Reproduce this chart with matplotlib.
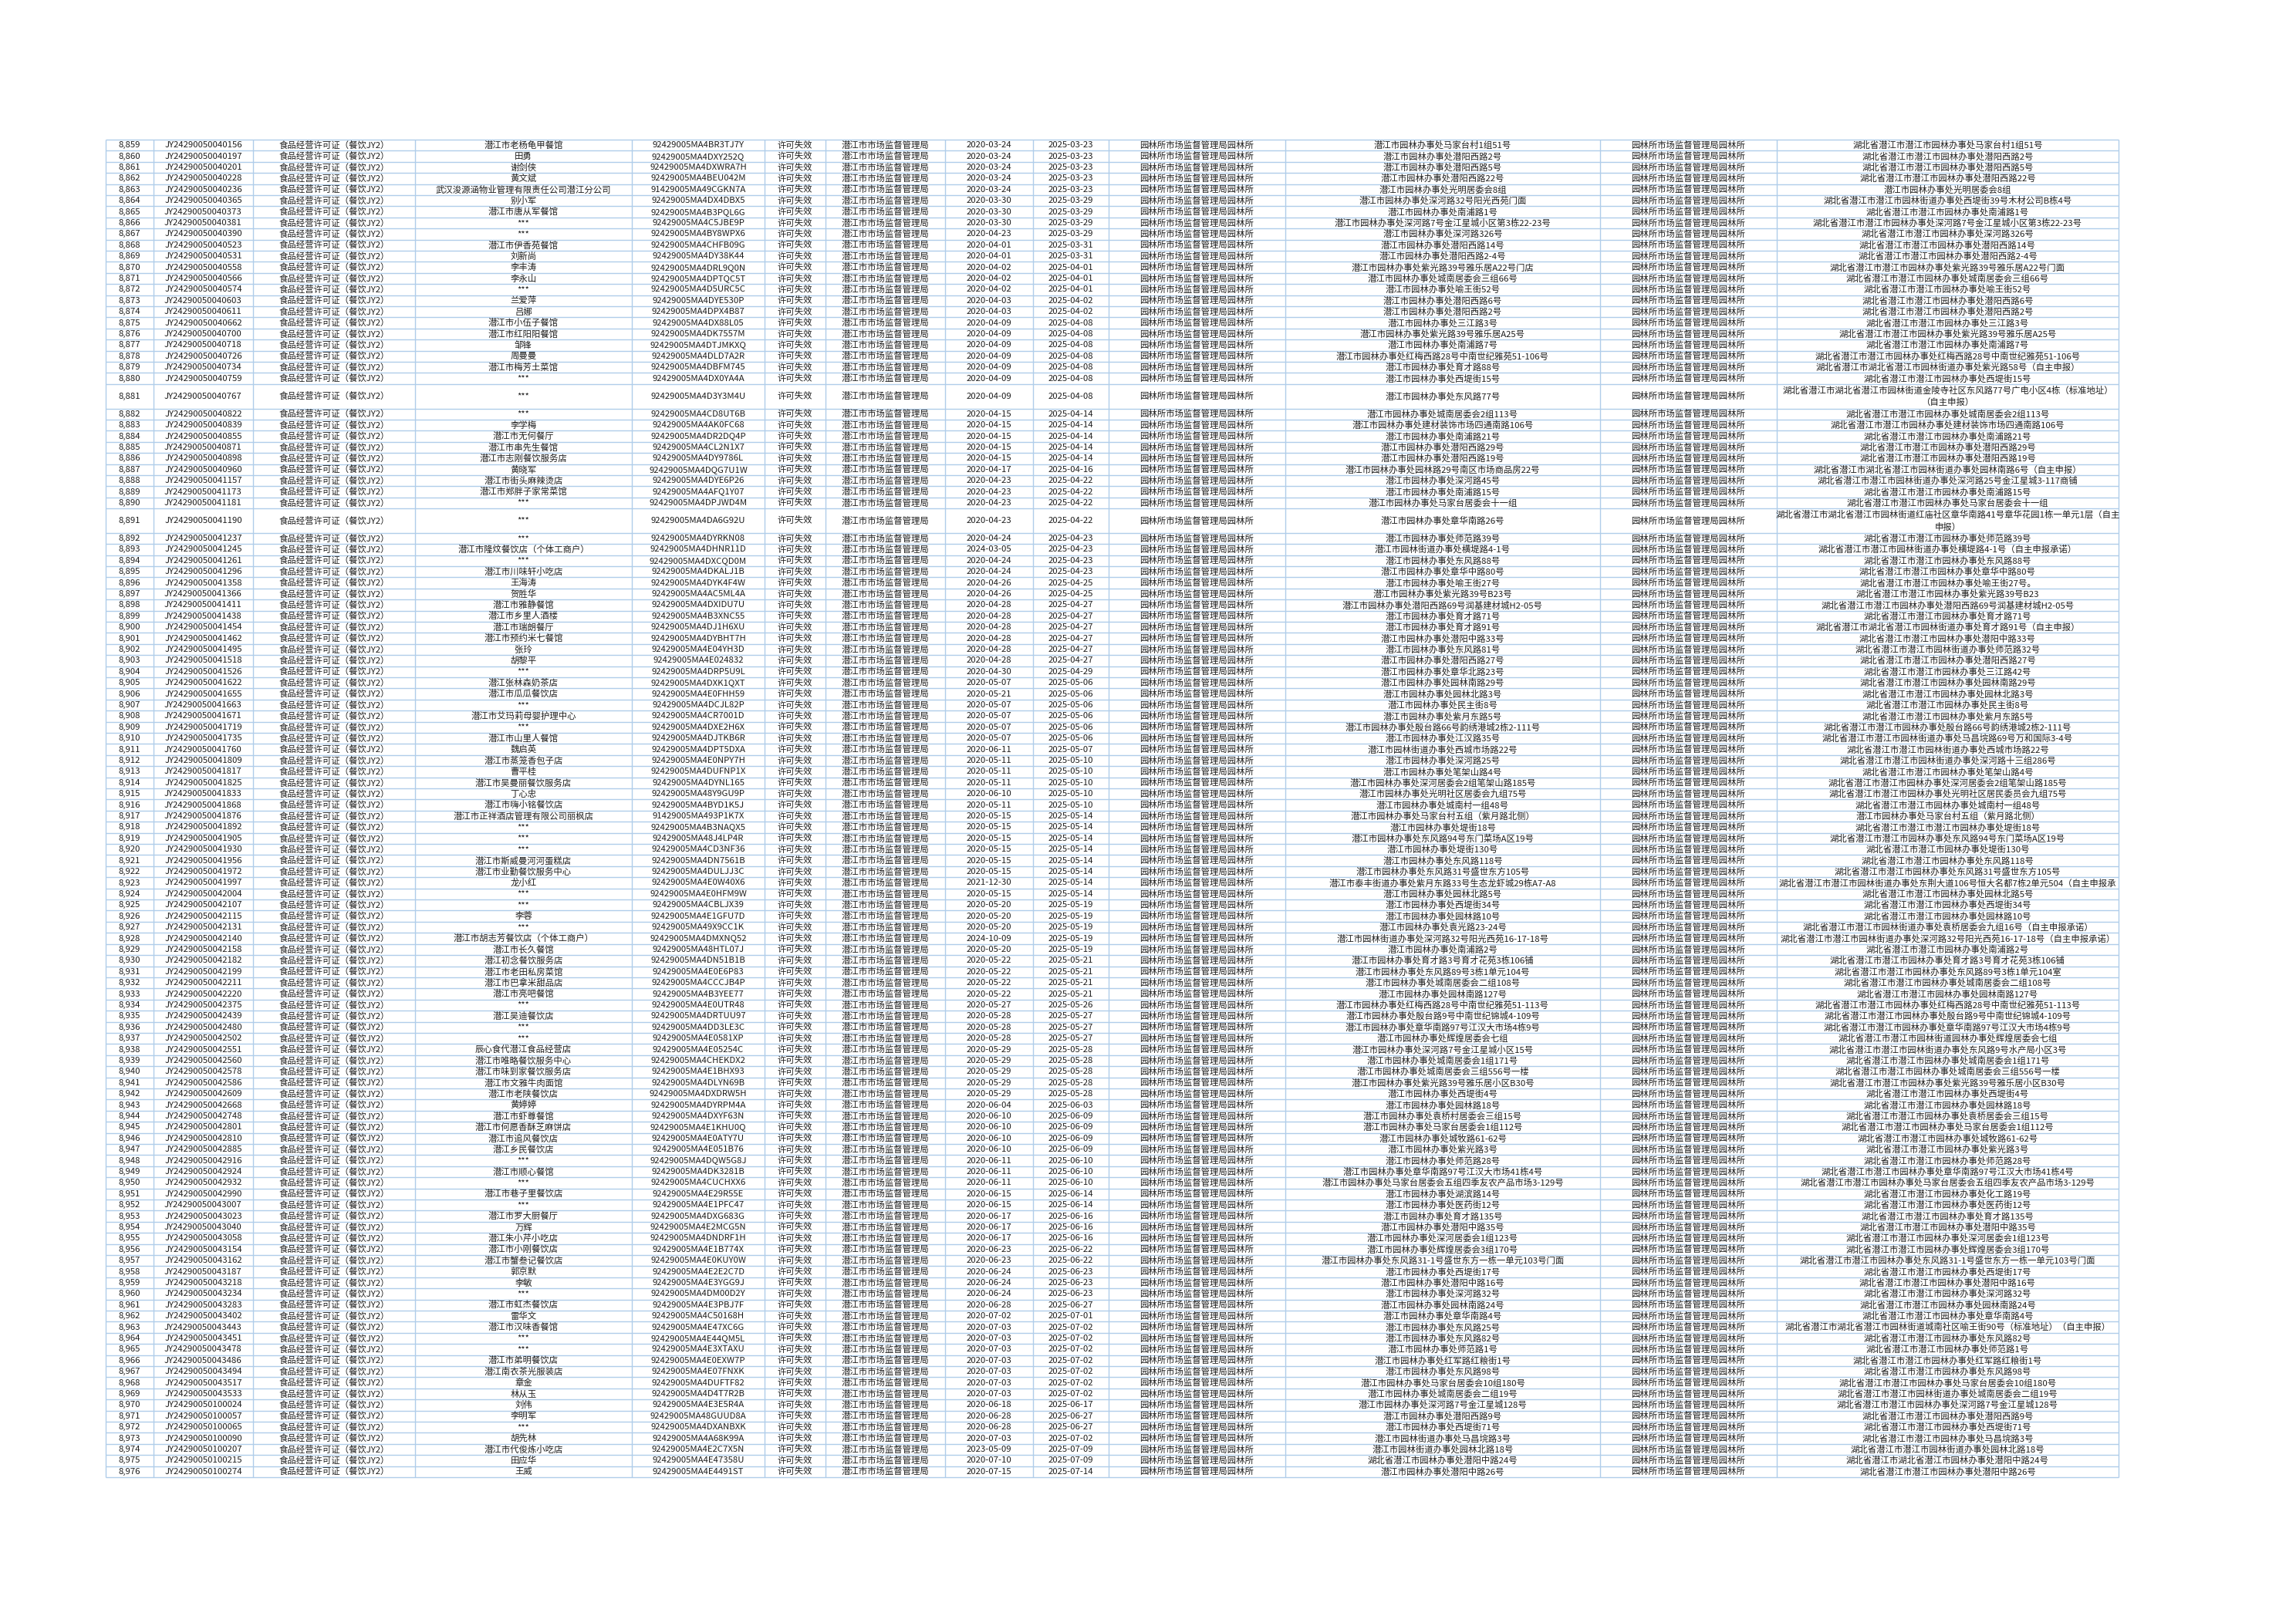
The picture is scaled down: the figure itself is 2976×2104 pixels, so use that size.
import matplotlib
matplotlib.use('Agg')
import matplotlib.pyplot as plt

plt.rcParams['font.family'] = ['Noto Sans CJK SC', 'DejaVu Sans']

# 序号
row_ids = list(range(8859, 8977))

# 许可证编号（后缀）
license_tail = [
    '40156', '40197', '40201', '40228', '40236', '40365', '40373', '40381', '40390', '40523',
    '40531', '40558', '40566', '40574', '40603', '40611', '40662', '40700', '40718', '40726',
    '40734', '40759', '40767', '40822', '40839', '40855', '40871', '40898', '40960', '41157',
    '41173', '41181', '41190', '41237', '41245', '41261', '41296', '41358', '41366', '41411',
    '41438', '41454', '41462', '41495', '41518', '41526', '41622', '41655', '41663', '41671',
    '41719', '41735', '41760', '41809', '41817', '41825', '41833', '41868', '41876', '41892',
    '41905', '41930', '41956', '41972', '41997', '42004', '42107', '42115', '42131', '42140',
    '42158', '42182', '42199', '42211', '42220', '42375', '42439', '42480', '42502', '42551',
    '42560', '42578', '42586', '42609', '42668', '42748', '42801', '42810', '42885', '42916',
    '42924', '42932', '42990', '43007', '43023', '43040', '43058', '43154', '43162', '43187',
    '43218', '43234', '43283', '43402', '43443', '43451', '43478', '43486', '43494', '43517',
    '43533', '100024', '100057', '100065', '100090', '100207', '100215', '100274',
]
license_nos = ['JY242900500' + t if len(t) == 5 else 'JY24290050' + t for t in license_tail]

permit_type = '食品经营许可证（餐饮JY2）'

names = [
    '潜江市老杨龟甲餐馆', '田勇', '谢剑侠', '黄文斌', '武汉浚源涵物业管理有限责任公司潜江分公司',
    '别小军', '潜江市唐从军餐馆', '***', '***', '潜江市伊香苑餐馆',
    '刘新尚', '李丰涛', '李永山', '***', '兰爱萍', '吕娜', '潜江市小伍子餐馆', '潜江市红阳阳餐馆',
    '邹锋', '周曼曼', '潜江市梅芳土菜馆', '***', '***', '***', '李学梅', '潜江市无何餐厅',
    '潜江市串先生餐馆', '潜江市志刚餐饮服务店', '黄晓军', '潜江市街头麻辣烫店', '潜江市郑胖子家常菜馆',
    '***', '***', '***', '潜江市隆炆餐饮店（个体工商户）', '***', '潜江市川味轩小吃店', '王海涛',
    '贺胜华', '潜江市雅静餐馆', '潜江市乡里人酒楼', '潜江市瑞朗餐厅', '潜江市预约米七餐馆', '张玲',
    '胡黎平', '***', '潜江张林森奶茶店', '潜江市瓜瓜餐饮店', '***', '潜江市艾玛莉母婴护理中心',
    '***', '潜江市山里人餐馆', '魏启英', '潜江市蒸笼香包子店', '曹平桂', '潜江市吴曼丽餐饮服务店',
    '丁心忠', '潜江市嗨小铭餐饮店', '潜江市正祥酒店管理有限公司丽枫店', '***', '***', '***',
    '潜江市斯威曼河河蛋糕店', '潜江市业勤餐饮服务中心', '龙小红', '***', '***', '李蓉', '***',
    '潜江市胡志芳餐饮店（个体工商户）', '潜江市长久餐馆', '潜江初念餐饮服务店', '潜江市老田私房菜馆',
    '潜江市巴拿米甜品店', '潜江市亮吧餐馆', '***', '潜江吴迪餐饮店', '***', '***',
    '辰心食代潜江食品经营店', '潜江市唯略餐饮服务中心', '潜江市味到家餐饮服务店', '潜江市文雅牛肉面馆',
    '潜江市老陕餐饮店', '黄婷婷', '潜江市虾尊餐馆', '潜江市何愿香酥芝麻饼店', '潜江市追风餐饮店',
    '潜江乡民餐饮店', '***', '潜江市顺心餐馆', '***', '潜江市巷子里餐饮店', '***', '潜江市罗大厨餐厅',
    '万辉', '潜江朱小芹小吃店', '潜江市小刚餐饮店', '潜江市蟹叁记餐饮店', '郭京默', '李敏', '***',
    '潜江市虹杰餐饮店', '雷华文', '潜江市汉味香餐馆', '***', '***', '潜江市弟明餐饮店',
    '潜江南衣茶光服装店', '章金', '林从玉', '刘伟', '李明军', '***', '胡先林', '潜江市代俊炼小吃店',
    '田应华', '王威',
]

credit_codes = [
    '92429005MA4BR3TJ7Y', '92429005MA4DXY252Q', '92429005MA4DXWRA7H', '92429005MA4BEU042M',
    '91429005MA49CGKN7A', '92429005MA4DX4DBX5', '92429005MA4B3PQL6G', '92429005MA4C5JBE9P',
    '92429005MA4BY8WPX6', '92429005MA4CHFB09G', '92429005MA4DY38K44', '92429005MA4DRL9Q0N',
    '92429005MA4DPTQC5T', '92429005MA4D5URC5C', '92429005MA4DYE530P', '92429005MA4DPX4B87',
    '92429005MA4DX88L05', '92429005MA4DK7557M', '92429005MA4DTJMKXQ', '92429005MA4DLD7A2R',
    '92429005MA4DBFM745', '92429005MA4DX0YA4A', '92429005MA4D3Y3M4U', '92429005MA4CD8UT6B',
    '92429005MA4AK0FC68', '92429005MA4DR2DQ4P', '92429005MA4CL2N1X7', '92429005MA4DY9786L',
    '92429005MA4DQG7U1W', '92429005MA4DYE6P26', '92429005MA4AFQ1Y07', '92429005MA4DPJWD4M',
    '92429005MA4DA6G92U', '92429005MA4DYRKN08', '92429005MA4DHNR11D', '92429005MA4DXCQD0M',
    '92429005MA4DKALJ1B', '92429005MA4DYK4F4W', '92429005MA4AC5ML4A', '92429005MA4DXIDU7U',
    '92429005MA4B3XNC55', '92429005MA4DJ1H6XU', '92429005MA4DYBHT7H', '92429005MA4E04YH3D',
    '92429005MA4E024832', '92429005MA4DRP5U9L', '92429005MA4DXK1QXT', '92429005MA4E0FHH59',
    '92429005MA4DCJL82P', '92429005MA4CR7001D', '92429005MA4DXE2H6X', '92429005MA4DJTKB6R',
    '92429005MA4DPT5DXA', '92429005MA4E0NPY7H', '92429005MA4DUFNP1X', '92429005MA4DYNL165',
    '92429005MA48Y9GU9P', '92429005MA4BYD1K5J', '91429005MA493P1K7X', '92429005MA4B3NAQX5',
    '92429005MA48J4LP4R', '92429005MA4CD3NF36', '92429005MA4DN7561B', '92429005MA4DULJJ3C',
    '92429005MA4E0W40X6', '92429005MA4E0HFM9W', '92429005MA4CBLJX39', '92429005MA4E1GFU7D',
    '92429005MA49X9CC1K', '92429005MA4DMXNQ52', '92429005MA48HTL07J', '92429005MA4DN51B1B',
    '92429005MA4E0E6P83', '92429005MA4CCCJB4P', '92429005MA4B3YEE77', '92429005MA4E0UTR48',
    '92429005MA4DRTUU97', '92429005MA4DD3LE3C', '92429005MA4E0581XP', '92429005MA4E05254C',
    '92429005MA4CHEKDX2', '92429005MA4E1BHX93', '92429005MA4DLYN69B', '92429005MA4DXDRW5H',
    '92429005MA4DYRPM4A', '92429005MA4DXYF63N', '92429005MA4E1KHU0Q', '92429005MA4E0ATY7U',
    '92429005MA4E051B76', '92429005MA4DQW5G8J', '92429005MA4DK3281B', '92429005MA4CUCHXX6',
    '92429005MA4E29R55E', '92429005MA4E1PFC47', '92429005MA4DXG683G', '92429005MA4E2MCG5N',
    '92429005MA4DNDRF1H', '92429005MA4E1B774X', '92429005MA4E0KUY0W', '92429005MA4E2E2C7D',
    '92429005MA4E3YGG9J', '92429005MA4DM00D2Y', '92429005MA4E3PBJ7F', '92429005MA4C50168H',
    '92429005MA4E47XC6G', '92429005MA4E44QM5L', '92429005MA4E3XTAXU', '92429005MA4E0EXW7P',
    '92429005MA4E07FNXK', '92429005MA4DUFTF82', '92429005MA4D4T7R2B', '92429005MA4E3E5R4A',
    '92429005MA48GUUD8A', '92429005MA4DXANBXK', '92429005MA4A68K99A', '92429005MA4E2C7X5N',
    '92429005MA4E47358U', '92429005MA4E4491ST',
]

status = '许可失效'
issuer = '潜江市市场监督管理局'

issue_dates = [
    '2020-03-24', '2020-03-24', '2020-03-24', '2020-03-24', '2020-03-24', '2020-03-30', '2020-03-30',
    '2020-03-30', '2020-04-23', '2020-04-01', '2020-04-01', '2020-04-02', '2020-04-02', '2020-04-02',
    '2020-04-03', '2020-04-03', '2020-04-09', '2020-04-09', '2020-04-09', '2020-04-09', '2020-04-09',
    '2020-04-09', '2020-04-09', '2020-04-15', '2020-04-15', '2020-04-15', '2020-04-15', '2020-04-15',
    '2020-04-17', '2020-04-23', '2020-04-23', '2020-04-23', '2020-04-23', '2020-04-24', '2024-03-05',
    '2020-04-24', '2020-04-24', '2020-04-26', '2020-04-26', '2020-04-28', '2020-04-28', '2020-04-28',
    '2020-04-28', '2020-04-28', '2020-04-28', '2020-04-30', '2020-05-07', '2020-05-21', '2020-05-07',
    '2020-05-07', '2020-05-07', '2020-05-07', '2020-06-11', '2020-05-11', '2020-05-11', '2020-05-11',
    '2020-06-10', '2020-05-11', '2020-05-15', '2020-05-15', '2020-05-15', '2020-05-15', '2020-05-15',
    '2020-05-15', '2021-12-30', '2020-05-15', '2020-05-20', '2020-05-20', '2020-05-20', '2024-10-09',
    '2020-05-20', '2020-05-22', '2020-05-22', '2020-05-22', '2020-05-22', '2020-05-27', '2020-05-28',
    '2020-05-28', '2020-05-28', '2020-05-29', '2020-05-29', '2020-05-29', '2020-05-29', '2020-05-29',
    '2020-06-04', '2020-06-10', '2020-06-10', '2020-06-10', '2020-06-10', '2020-06-11', '2020-06-11',
    '2020-06-11', '2020-06-15', '2020-06-15', '2020-06-17', '2020-06-17', '2020-06-17', '2020-06-23',
    '2020-06-23', '2020-06-24', '2020-06-24', '2020-06-24', '2020-06-28', '2020-07-02', '2020-07-03',
    '2020-07-03', '2020-07-03', '2020-07-03', '2020-07-03', '2020-07-03', '2020-07-03', '2020-06-18',
    '2020-06-28', '2020-06-28', '2020-07-03', '2023-05-09', '2020-07-10', '2020-07-15',
]

expiry_dates = [
    '2025-03-23', '2025-03-23', '2025-03-23', '2025-03-23', '2025-03-23', '2025-03-29', '2025-03-29',
    '2025-03-29', '2025-03-29', '2025-03-31', '2025-03-31', '2025-04-01', '2025-04-01', '2025-04-01',
    '2025-04-02', '2025-04-02', '2025-04-08', '2025-04-08', '2025-04-08', '2025-04-08', '2025-04-08',
    '2025-04-08', '2025-04-08', '2025-04-14', '2025-04-14', '2025-04-14', '2025-04-14', '2025-04-14',
    '2025-04-16', '2025-04-22', '2025-04-22', '2025-04-22', '2025-04-22', '2025-04-23', '2025-04-23',
    '2025-04-23', '2025-04-23', '2025-04-25', '2025-04-25', '2025-04-27', '2025-04-27', '2025-04-27',
    '2025-04-27', '2025-04-27', '2025-04-27', '2025-04-29', '2025-05-06', '2025-05-06', '2025-05-06',
    '2025-05-06', '2025-05-06', '2025-05-06', '2025-05-07', '2025-05-10', '2025-05-10', '2025-05-10',
    '2025-05-10', '2025-05-10', '2025-05-14', '2025-05-14', '2025-05-14', '2025-05-14', '2025-05-14',
    '2025-05-14', '2025-05-14', '2025-05-14', '2025-05-19', '2025-05-19', '2025-05-19', '2025-05-19',
    '2025-05-19', '2025-05-21', '2025-05-21', '2025-05-21', '2025-05-21', '2025-05-26', '2025-05-27',
    '2025-05-27', '2025-05-27', '2025-05-28', '2025-05-28', '2025-05-28', '2025-05-28', '2025-05-28',
    '2025-06-03', '2025-06-09', '2025-06-09', '2025-06-09', '2025-06-09', '2025-06-10', '2025-06-10',
    '2025-06-10', '2025-06-14', '2025-06-14', '2025-06-16', '2025-06-16', '2025-06-16', '2025-06-22',
    '2025-06-22', '2025-06-23', '2025-06-23', '2025-06-23', '2025-06-27', '2025-07-01', '2025-07-02',
    '2025-07-02', '2025-07-02', '2025-07-02', '2025-07-02', '2025-07-02', '2025-07-02', '2025-06-17',
    '2025-06-27', '2025-06-27', '2025-07-02', '2025-07-09', '2025-07-09', '2025-07-14',
]

office = '园林所市场监督管理局园林所'

P = '潜江市园林办事处'
addresses = [
    P + '马家台村1组51号', P + '潜阳西路2号', P + '潜阳西路5号', P + '潜阳西路22号',
    P + '光明居委会8组', P + '深河路32号阳光西苑门面', P + '南浦路1号',
    P + '深河路7号金江星城小区第3栋22-23号', P + '深河路326号', P + '潜阳西路14号',
    P + '潜阳西路2-4号', P + '紫光路39号雅乐居A22号门店', P + '城南居委会三组66号', P + '喻王街52号',
    P + '潜阳西路6号', P + '潜阳西路2号', P + '三江路3号', P + '紫光路39号雅乐居A25号', P + '南浦路7号',
    P + '红梅西路28号中南世纪雅苑51-106号', P + '育才路88号', P + '西堤街15号', P + '东风路77号',
    P + '城南居委会2组113号', P + '建材装饰市场四通南路106号', P + '南浦路21号', P + '潜阳西路29号',
    P + '潜阳西路19号', P + '园林路29号南区市场商品房22号', P + '深河路45号', P + '南浦路15号',
    P + '马家台居委会十一组', P + '章华南路26号', P + '师范路39号', '潜江市园林街道办事处横堤路4-1号',
    P + '东风路88号', P + '章华中路80号', P + '喻王街27号', P + '紫光路39号B23号',
    P + '潜阳西路69号润基建材城H2-05号', P + '育才路71号', P + '育才路91号', P + '潜阳中路33号',
    P + '东风路81号', P + '潜阳西路27号', P + '章华北路23号', P + '园林南路29号', P + '园林北路3号',
    P + '民主街8号', P + '紫月东路5号', P + '殷台路66号韵绣港城2栋2-111号', P + '江汉路35号',
    '潜江市园林街道办事处西城市场路22号', P + '深河路25号', P + '笔架山路4号',
    P + '深河居委会2组笔架山路185号', P + '光明社区居委会九组75号', P + '城南村一组48号',
    P + '马家台村五组（紫月路北侧）', P + '堤街18号', P + '东风路94号东门菜场A区19号', P + '堤街130号',
    P + '东风路118号', P + '东风路31号盛世东方105号', '潜江市泰丰街道办事处紫月东路33号生态龙虾城29栋A7-A8',
    P + '园林北路5号', P + '西堤街34号', P + '园林路10号', P + '袁光路23-24号',
    '潜江市园林街道办事处深河路32号阳光西苑16-17-18号', P + '南浦路2号',
    P + '育才路3号育才花苑3栋106铺', P + '东风路89号3栋1单元104号', P + '城南居委会二组108号',
    P + '园林南路127号', P + '红梅西路28号中南世纪雅苑51-113号', P + '殷台路9号中南世纪锦城4-109号',
    P + '章华南路97号江汉大市场4栋9号', P + '辉煌居委会七组', P + '深河路7号金江星城小区15号',
    P + '城南居委会1组171号', P + '城南居委会三组556号一楼', P + '紫光路39号雅乐居小区B30号',
    P + '西堤街4号', P + '园林路18号', P + '袁桥村居委会三组15号', P + '马家台居委会1组112号',
    P + '城牧路61-62号', P + '紫光路3号', P + '师范路28号', P + '章华南路97号江汉大市场41栋4号',
    P + '马家台居委会五组四季友农产品市场3-129号', P + '湖滨路14号', P + '医药街12号', P + '育才路135号',
    P + '潜阳中路35号', P + '深河居委会1组123号', P + '辉煌居委会3组170号',
    P + '东风路31-1号盛世东方一栋一单元103号门面', P + '西堤街17号', P + '潜阳中路16号', P + '深河路32号',
    P + '园林南路24号', P + '章华南路4号', P + '东风路25号', P + '东风路82号', P + '师范路1号',
    P + '红军路红粮街1号', P + '东风路98号', P + '马家台居委会10组180号', P + '城南居委会二组19号',
    P + '深河路7号金江星城128号', P + '潜阳西路9号', P + '西堤街71号', '潜江市园林街道办事处马昌垸路3号',
    '潜江市园林街道办事处园林北路18号', '湖北省潜江市园林办事处潜阳中路24号', P + '潜阳中路26号',
]

H = '湖北省潜江市'
addresses_full = [H + a for a in addresses]
addresses_full[4] = P + '光明居委会8组'
addresses_full[5] = H + '潜江市园林街道办事处西堤街39号木材公司B栋4号'
addresses_full[11] = H + P + '紫光路39号雅乐居A22号门面'
addresses_full[20] = H + '湖北省潜江市园林街道办事处紫光路58号（自主申报）'
addresses_full[22] = H + '湖北省潜江市园林街道金陵寺社区东风路77号广电小区4栋（标准地址）\n（自主申报）'
addresses_full[28] = H + '湖北省潜江市园林街道办事处园林南路6号（自主申报）'
addresses_full[29] = H + '潜江市园林街道办事处深河路25号金江星城3-117商铺'
addresses_full[32] = H + '湖北省潜江市园林街道红庙社区章华南路41号章华花园1栋一单元1层（自主\n申报）'
addresses_full[34] = H + '潜江市园林街道办事处横堤路4-1号（自主申报承诺）'
addresses_full[37] = H + P + '喻王街27号。'
addresses_full[38] = H + P + '紫光路39号B23'
addresses_full[41] = H + '湖北省潜江市园林街道办事处育才路91号（自主申报）'
addresses_full[43] = H + '潜江市园林街道办事处师范路32号'
addresses_full[45] = H + P + '三江路42号'
addresses_full[51] = H + '潜江市园林街道办事处马昌垸路69号万和国际3-4号'
addresses_full[53] = H + '潜江市园林街道办事处深河路十三组286号'
addresses_full[56] = H + P + '光明社区居民委员会九组75号'
addresses_full[58] = P + '马家台村五组（紫月路北侧）'
addresses_full[59] = H + '潜江市潜江市园林办事处堤街18号'
addresses_full[64] = H + '潜江市园林街道办事处东荆大道106号恒大名都7栋2单元504（自主申报承'
addresses_full[68] = H + '潜江市园林街道办事处袁桥居委会九组16号（自主申报承诺）'
addresses_full[69] = H + '潜江市园林街道办事处深河路32号阳光西苑16-17-18号（自主申报承诺）'
addresses_full[72] = H + P + '东风路89号3栋1单元104室'
addresses_full[78] = H + '潜江市园林街道园林办事处辉煌居委会七组'
addresses_full[79] = H + '潜江市园林街道办事处东风路9号水产局小区3号'
addresses_full[85] = H + P + '袁桥居委会三组15号'
addresses_full[92] = H + P + '化工路19号'
addresses_full[104] = H + '湖北省潜江市园林街道城南社区喻王街90号（标准地址）（自主申报）'
addresses_full[110] = H + '潜江市园林街道办事处城南居委会二组19号'
addresses_full[114] = H + P + '马昌垸路3号'

# 布局
x_edges = [137, 199, 328, 538, 819, 991, 1070, 1225, 1339, 1437, 1666, 2074, 2303, 2746]
y_top, y_bottom = 181, 1915
line_color = '#b0cdea'
text_color = '#1e1e1e'
fs = 8.2

n_lines = [a.count('\n') + 1 for a in addresses_full]
weights = [1.0 if k == 1 else 2.2 for k in n_lines]
unit = (y_bottom - y_top) / sum(weights)
y_edges = [y_top]
for w in weights:
    y_edges.append(y_edges[-1] + w * unit)

fig = plt.figure(figsize=(29.76, 21.04), dpi=100)
ax = fig.add_axes([0, 0, 1, 1])
ax.set_xlim(0, 2976)
ax.set_ylim(2104, 0)
ax.axis('off')

ax.hlines(y_edges, x_edges[0], x_edges[-1], colors=line_color, linewidth=1.0)
ax.vlines(x_edges, y_top, y_bottom, colors=line_color, linewidth=1.0)

for i in range(len(row_ids)):
    cells = [f'{row_ids[i]:,}', license_nos[i], permit_type, names[i], credit_codes[i], status,
             issuer, issue_dates[i], expiry_dates[i], office, addresses[i], office, addresses_full[i]]
    yc = (y_edges[i] + y_edges[i + 1]) / 2
    for j, txt in enumerate(cells):
        xc = (x_edges[j] + x_edges[j + 1]) / 2
        ax.text(xc, yc, txt, ha='center', va='center', fontsize=fs, color=text_color,
                linespacing=1.5, clip_on=True)

fig.savefig('out.png', dpi=100, facecolor='white')
